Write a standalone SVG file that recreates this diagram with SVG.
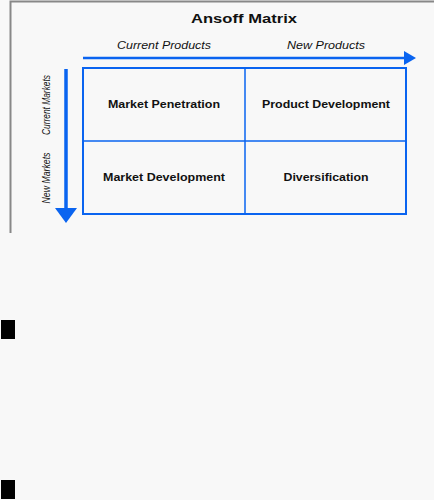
<svg xmlns="http://www.w3.org/2000/svg" width="434" height="500" viewBox="0 0 434 500">
<style>
.t{font-family:"Liberation Sans",Arial,sans-serif;fill:#111;}
.b{font-weight:bold;font-size:10px;}
.i{font-style:italic;font-size:10px;}
.r{font-size:11px;}
.blue{stroke:#0a64f0;fill:none;}
</style>
<defs>
<marker id="ah" markerWidth="12" markerHeight="14" refX="0" refY="7" orient="auto" markerUnits="userSpaceOnUse">
<path d="M0,0 L12,7 L0,14 Z" fill="#0a64f0"/>
</marker>
</defs>
<rect width="434" height="500" fill="#f8f8f8"/>
<path d="M10.5,233 V1.5 H434" fill="none" stroke="#888" stroke-width="2"/>
<text class="t b" x="244" y="23" text-anchor="middle" style="font-size:13.5px" textLength="106" lengthAdjust="spacingAndGlyphs">Ansoff Matrix</text>
<g id="connectors">
<line class="blue" x1="83" y1="58" x2="404" y2="58" stroke-width="2.5" marker-end="url(#ah)"/>
<line class="blue" x1="66" y1="69" x2="66" y2="208" stroke-width="3.5"/>
<path d="M55,208 L77,208 L66,223 Z" fill="#0a64f0"/>
</g>
<g id="labels">
<text class="t i" x="164" y="49" text-anchor="middle" textLength="94" lengthAdjust="spacingAndGlyphs">Current Products</text>
<text class="t i" x="326" y="49" text-anchor="middle" textLength="78" lengthAdjust="spacingAndGlyphs">New Products</text>
<text class="t i r" transform="translate(50,105) rotate(-90)" text-anchor="middle" textLength="60" lengthAdjust="spacingAndGlyphs">Current Markets</text>
<text class="t i r" transform="translate(50,178) rotate(-90)" text-anchor="middle" textLength="51" lengthAdjust="spacingAndGlyphs">New Markets</text>
</g>
<g id="matrix">
<rect class="blue" x="83" y="68" width="323" height="146" stroke-width="2"/>
<line class="blue" x1="245" y1="68" x2="245" y2="214" stroke-width="1.5"/>
<line class="blue" x1="83" y1="141" x2="406" y2="141" stroke-width="1.5"/>
</g>
<g id="cell-mp"><text class="t b" x="164" y="108" text-anchor="middle" textLength="112" lengthAdjust="spacingAndGlyphs">Market Penetration</text></g>
<g id="cell-pd"><text class="t b" x="326" y="108" text-anchor="middle" textLength="128" lengthAdjust="spacingAndGlyphs">Product Development</text></g>
<g id="cell-md"><text class="t b" x="164" y="181" text-anchor="middle" textLength="122" lengthAdjust="spacingAndGlyphs">Market Development</text></g>
<g id="cell-dv"><text class="t b" x="326" y="181" text-anchor="middle" textLength="85" lengthAdjust="spacingAndGlyphs">Diversification</text></g>
<rect x="1" y="320" width="14" height="19" fill="#000"/>
<rect x="1" y="480" width="14" height="19" fill="#000"/>
</svg>
